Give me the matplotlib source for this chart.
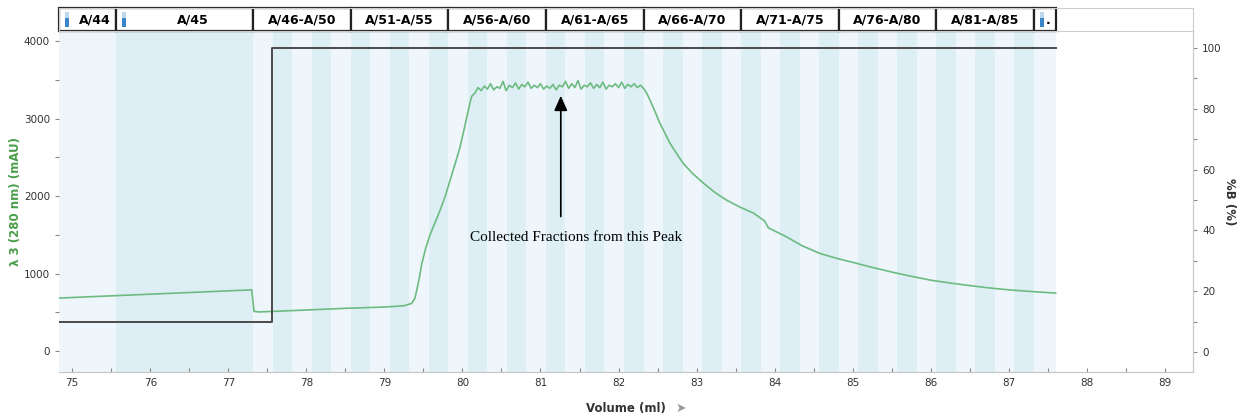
import matplotlib
matplotlib.use("Agg")
import matplotlib.pyplot as plt
from matplotlib.patches import Rectangle
from matplotlib.ticker import MultipleLocator

# ---------------- data ----------------
uv_volume = [74.83, 77.30, 77.33, 77.40, 78.0, 78.5, 79.0, 79.25, 79.35, 79.39, 79.415, 79.45,
             79.48, 79.53, 79.585, 79.65, 79.714, 79.78, 79.842, 79.91, 79.97, 80.03, 80.076,
             80.10, 80.12,
             80.16, 80.20, 80.24, 80.28, 80.32, 80.36, 80.40, 80.44, 80.48, 80.52, 80.56,
             80.60, 80.64, 80.68, 80.72, 80.76, 80.80, 80.84, 80.88, 80.92, 80.96, 81.00,
             81.04, 81.08, 81.12, 81.16, 81.20, 81.24, 81.28, 81.32, 81.36, 81.40, 81.44,
             81.48, 81.52, 81.56, 81.60, 81.64, 81.68, 81.72, 81.76, 81.80, 81.84, 81.88,
             81.92, 81.96, 82.00, 82.04, 82.08, 82.12, 82.16, 82.20, 82.24, 82.28,
             82.32, 82.36, 82.42, 82.48, 82.53, 82.60, 82.66, 82.75, 82.83, 82.95, 83.09,
             83.23, 83.38, 83.55, 83.73, 83.87, 83.92, 84.00, 84.15, 84.35, 84.58, 84.80,
             85.00, 85.25, 85.50, 85.75, 86.00, 86.25, 86.50, 86.75, 87.00, 87.30, 87.60]
uv_mau = [684, 790, 512, 505, 530, 552, 568, 585, 615, 680, 787, 960,
          1132, 1330, 1500, 1660, 1819, 2000, 2206, 2430, 2636, 2900, 3110,
          3220, 3290,
          3330, 3400, 3360, 3420, 3380, 3450, 3370, 3410, 3390, 3480, 3360,
          3430, 3400, 3460, 3380, 3440, 3410, 3470, 3390, 3430, 3400, 3450,
          3380, 3420, 3390, 3440, 3370, 3430, 3410, 3480, 3390, 3450, 3400,
          3490, 3380, 3430, 3410, 3460, 3390, 3440, 3400, 3470, 3380, 3430,
          3410, 3450, 3400, 3470, 3390, 3440, 3410, 3450, 3400, 3430,
          3390, 3330, 3200, 3060, 2940, 2800, 2680, 2540, 2420, 2290, 2165,
          2050, 1950, 1860, 1780, 1680, 1590, 1550, 1475, 1360, 1260, 1195,
          1145, 1080, 1020, 965, 915, 878, 845, 815, 790, 768, 748]

pctB_volume = [74.83, 77.56, 77.56, 87.60]
pctB_value = [10, 10, 100, 100]

fraction_edges = [74.83, 75.56, 77.32, 77.57, 77.82, 78.07, 78.32, 78.57, 78.82, 79.07,
                  79.32, 79.57, 79.82, 80.07, 80.32, 80.57, 80.82, 81.07, 81.32, 81.57,
                  81.82, 82.07, 82.32, 82.57, 82.82, 83.07, 83.32, 83.57, 83.82, 84.07,
                  84.32, 84.57, 84.82, 85.07, 85.32, 85.57, 85.82, 86.07, 86.32, 86.57,
                  86.82, 87.07, 87.32, 87.60]

header_labels = ["A/44", "A/45", "A/46-A/50", "A/51-A/55", "A/56-A/60", "A/61-A/65",
                 "A/66-A/70", "A/71-A/75", "A/76-A/80", "A/81-A/85", "."]
header_edges = [74.83, 75.56, 77.32, 78.57, 79.82, 81.07, 82.32, 83.57, 84.82, 86.07,
                87.32, 87.60]
header_icon = [True, True, False, False, False, False, False, False, False, False, True]

annot_text = "Collected Fractions from this Peak"
annot_tip = (81.26, 3330)
annot_tail = (81.26, 1700)
annot_text_pos = (81.46, 1470)

# ---------------- figure ----------------
fig = plt.figure(figsize=(12.41, 4.15), dpi=100)
xl = (74.83, 89.36)
ax = fig.add_axes([0.0475, 0.1036, 0.9138, 0.8217])
ax.set_xlim(*xl)
ax.set_ylim(-270, 4130)

light = "#eef5fb"
dark = "#ddeff4"
for i in range(len(fraction_edges) - 1):
    col = light if i % 2 == 0 else dark
    ax.axvspan(fraction_edges[i], fraction_edges[i + 1], color=col, lw=0, zorder=0)

ax.plot(uv_volume, uv_mau, color="#6cbb80", lw=1.2, zorder=3)

ax2 = ax.twinx()
ax2.set_ylim(-6.6, 105.6)
ax2.plot(pctB_volume, pctB_value, color="#4a4a4a", lw=1.4, zorder=2)

ax.annotate("", xy=annot_tip, xytext=annot_tail,
            arrowprops=dict(arrowstyle="-|>,head_length=0.9,head_width=0.4", color="black", lw=1.2),
            zorder=5)
ax.text(annot_text_pos[0], annot_text_pos[1], annot_text, ha="center", va="center",
        fontsize=11, family="Liberation Serif", zorder=5)

# ticks
tick_col = "#333333"
spine_col = "#c8c8c8"
for a in (ax, ax2):
    for s in a.spines.values():
        s.set_color(spine_col)
    a.spines["top"].set_visible(False)
ax.spines["left"].set_visible(False)
ax2.spines["left"].set_visible(False)
ax.xaxis.set_major_locator(MultipleLocator(1))
ax.xaxis.set_minor_locator(MultipleLocator(0.5))
ax.yaxis.set_major_locator(MultipleLocator(1000))
ax.yaxis.set_minor_locator(MultipleLocator(500))
ax2.yaxis.set_major_locator(MultipleLocator(20))
ax2.yaxis.set_minor_locator(MultipleLocator(10))
for a in (ax, ax2):
    a.tick_params(which="both", colors="#888888", labelcolor=tick_col, labelsize=7.5,
                  length=3, width=0.8)
ax.tick_params(axis="x", which="both", direction="in", pad=4.5)

ax.set_ylabel("λ 3 (280 nm) (mAU)", color="#4a9e4a", fontsize=8.5, fontweight="bold", labelpad=1)
ax2.set_ylabel("%B (%)", color="#333333", fontsize=8.5, fontweight="bold", rotation=270, labelpad=10)
ax.set_xlabel("Volume (ml)", color="#333333", fontsize=8.5, fontweight="bold", labelpad=10)
fig.text(0.549, 0.016, "➤", color="#999999", fontsize=9, ha="center", va="center")

# header strip
hx = fig.add_axes([0.0475, 0.9253, 0.9138, 0.0554])
hx.set_xlim(*xl)
hx.set_ylim(0, 1)
hx.set_xticks([])
hx.set_yticks([])
for s in hx.spines.values():
    s.set_color("#cccccc")
    s.set_linewidth(0.8)
for i, lab in enumerate(header_labels):
    x0, x1 = header_edges[i], header_edges[i + 1]
    hx.add_patch(Rectangle((x0, 0.02), x1 - x0, 0.96, facecolor="white", edgecolor="#222222",
                           lw=1.6, clip_on=False, zorder=2))
    if header_icon[i]:
        ix = x0 + 0.08
        hx.add_patch(Rectangle((ix, 0.18), 0.05, 0.38, facecolor="#3a86c8", edgecolor="none", zorder=3))
        hx.add_patch(Rectangle((ix, 0.56), 0.05, 0.28, facecolor="#bcd7ee", edgecolor="none", zorder=3))
        if lab == ".":
            hx.text(ix + 0.08, 0.45, lab, ha="left", va="center", fontsize=9, fontweight="bold", zorder=4)
        else:
            hx.text((x0 + x1) / 2 + 0.1, 0.47, lab, ha="center", va="center", fontsize=9,
                    fontweight="bold", zorder=4)
    else:
        hx.text((x0 + x1) / 2, 0.47, lab, ha="center", va="center", fontsize=9,
                fontweight="bold", zorder=4)

fig.savefig("out.png", dpi=100)
